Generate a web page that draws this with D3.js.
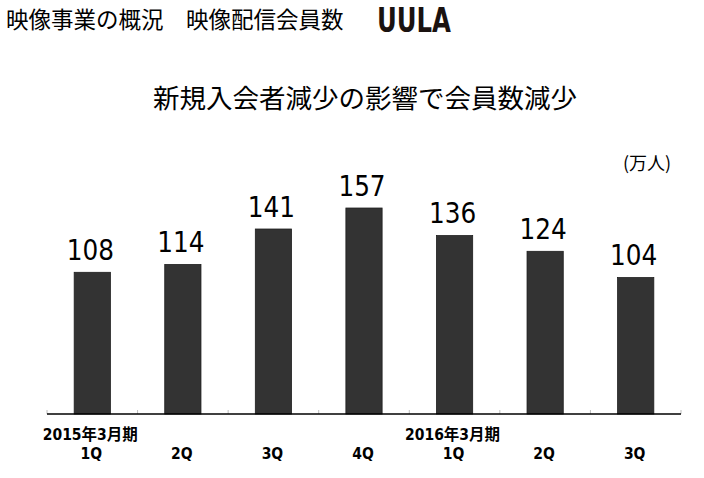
<!DOCTYPE html>
<html>
<head>
<meta charset="utf-8">
<script src="https://cdn.jsdelivr.net/npm/d3@7"></script>
<style>
  html, body { margin: 0; padding: 0; background: #fff; }
  svg { display: block; }
</style>
</head>
<body>
<svg id="chart" width="704" height="478"></svg>
<script>
// ---- data ----
const periodLabels = ["2015年3月期", "", "", "", "2016年3月期", "", ""];
const quarterLabels = ["1Q", "2Q", "3Q", "4Q", "1Q", "2Q", "3Q"];
const members = [108, 114, 141, 157, 136, 124, 104];
const pageTitle = "映像事業の概況　映像配信会員数";
const logoText = "UULA";
const subtitle = "新規入会者減少の影響で会員数減少";
const unitLabel = "(万人)";

// ---- layout ----
const svg = d3.select("#chart");
const jp = "'Noto Sans CJK JP', 'Noto Sans', sans-serif";
const num = "'DejaVu Sans Condensed', 'DejaVu Sans', " + jp;

const axisY = 414, axisX0 = 47, axisX1 = 681;
const idx = d3.range(members.length);

const x = d3.scaleBand().domain(idx).range([axisX0, axisX1])
  .paddingInner(0.6).paddingOuter(0.3);
const y = d3.scaleLinear().domain([0, 160]).range([axisY, axisY - 160 * 1.312]);

// title
svg.append("text").attr("x", 6).attr("y", 27.5)
  .attr("font-family", jp).attr("font-size", 22.5).attr("fill", "#000")
  .text(pageTitle);

// logo (as text)
svg.append("text").attr("x", 377).attr("y", 32)
  .attr("font-family", "'DejaVu Sans Condensed', 'DejaVu Sans', sans-serif")
  .attr("font-weight", "bold").attr("font-size", 34)
  .attr("textLength", 74).attr("lengthAdjust", "spacingAndGlyphs")
  .attr("fill", "#1a1210")
  .text(logoText);

// subtitle
svg.append("text").attr("x", 365).attr("y", 107.5)
  .attr("text-anchor", "middle")
  .attr("font-family", jp).attr("font-size", 26.5).attr("fill", "#000")
  .text(subtitle);

// unit
svg.append("text").attr("x", 647).attr("y", 169.5)
  .attr("text-anchor", "middle")
  .attr("font-family", jp).attr("font-size", 18).attr("fill", "#000")
  .text(unitLabel);

// bars
svg.append("g").selectAll("rect").data(idx).join("rect")
  .attr("x", i => x(i))
  .attr("y", i => y(members[i]))
  .attr("width", x.bandwidth())
  .attr("height", i => y(0) - y(members[i]))
  .attr("fill", "#333333")
  .attr("stroke", "#1e1e1e").attr("stroke-width", 0.8);

// value labels
svg.append("g").selectAll("text").data(idx).join("text")
  .attr("x", i => x(i) + x.bandwidth() / 2 - 2)
  .attr("y", i => y(members[i]) - 12.3)
  .attr("text-anchor", "middle")
  .attr("font-family", num).attr("font-stretch", "condensed")
  .attr("font-size", 27.5).attr("fill", "#000")
  .text(i => members[i]);

// category boundary ticks
const step = x.step();
const bounds = d3.range(members.length + 1).map(k => axisX0 + k * step);
svg.append("g").selectAll("line").data(bounds).join("line")
  .attr("x1", d => d).attr("x2", d => d)
  .attr("y1", axisY - 4).attr("y2", axisY)
  .attr("stroke", "#bdbdbd").attr("stroke-width", 1);

// axis line
svg.append("line")
  .attr("x1", axisX0).attr("x2", axisX1)
  .attr("y1", axisY).attr("y2", axisY)
  .attr("stroke", "#000").attr("stroke-width", 1.5);

// category labels
const lab = svg.append("g")
  .attr("font-family", num).attr("font-stretch", "condensed")
  .attr("font-weight", "bold").attr("font-size", 15.5).attr("fill", "#000")
  .attr("text-anchor", "middle");
lab.selectAll("text.p").data(idx.filter(i => periodLabels[i])).join("text")
  .attr("class", "p")
  .attr("x", i => x(i) + x.bandwidth() / 2 - 2)
  .attr("y", 440)
  .text(i => periodLabels[i]);
lab.selectAll("text.q").data(idx).join("text")
  .attr("class", "q")
  .attr("x", i => x(i) + x.bandwidth() / 2 - 1)
  .attr("y", 459)
  .text(i => quarterLabels[i]);
</script>
</body>
</html>
